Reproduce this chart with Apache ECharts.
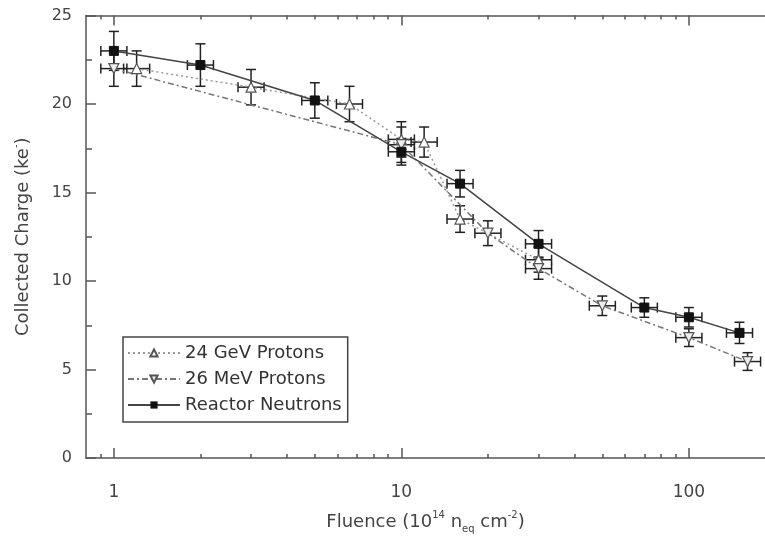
<!DOCTYPE html>
<html>
<head>
<meta charset="UTF-8">
<title>Collected Charge vs Fluence</title>
<script src="https://cdn.jsdelivr.net/npm/echarts@6/dist/echarts.min.js"></script>
</head>
<body style="margin:0">
<div id="main" style="width:765px;height:539px;"></div>
<script>
// data: fluence (1e14 neq/cm2), charge (ke-), y error
var gevX = [1.2, 3, 6.6, 10, 12, 16, 30];
var gevY = [22.0, 20.95, 20.0, 18.0, 17.85, 13.5, 11.2];
var gevErr = [1.0, 1.0, 1.0, 1.0, 0.85, 0.75, 0.7];

var mevX = [1, 10, 20, 30, 50, 100, 160];
var mevY = [22.0, 17.7, 12.7, 10.7, 8.6, 6.8, 5.45];
var mevErr = [1.0, 1.0, 0.7, 0.6, 0.55, 0.5, 0.5];

var reacX = [1, 2, 5, 10, 16, 30, 70, 100, 150];
var reacY = [23.0, 22.2, 20.2, 17.3, 15.5, 12.1, 8.5, 7.95, 7.07];
var reacErr = [1.1, 1.2, 1.0, 0.75, 0.75, 0.75, 0.55, 0.55, 0.6];

var xErrFactor = 1.11;   // horizontal error bars, about +-11%
var xMajor = [1, 10, 100];
var xMinor = [0.9, 2, 3, 4, 5, 6, 7, 8, 9, 20, 30, 40, 50, 60, 70, 80, 90];
// the original frame is cut off at the right edge of the picture
var xMin = 0.8, xMax = 184;

var FONT = 'DejaVu Sans';
var AXIS_COLOR = '#555';

function pairs(xs, ys) {
    return xs.map(function (x, i) { return [x, ys[i]]; });
}
function triples(xs, ys, es) {
    return xs.map(function (x, i) { return [x, ys[i], es[i]]; });
}

// error bar cross with caps
function renderErr(params, api) {
    var x = api.value(0), y = api.value(1), e = api.value(2);
    var top = api.coord([x, y + e]);
    var bot = api.coord([x, y - e]);
    var lft = api.coord([x / xErrFactor, y]);
    var rgt = api.coord([x * xErrFactor, y]);
    var c = 5;
    var st = { stroke: '#222', lineWidth: 1.5 };
    function seg(x1, y1, x2, y2) {
        return { type: 'line', shape: { x1: x1, y1: y1, x2: x2, y2: y2 }, style: st };
    }
    return {
        type: 'group',
        children: [
            seg(top[0], top[1], bot[0], bot[1]),
            seg(top[0] - c, top[1], top[0] + c, top[1]),
            seg(bot[0] - c, bot[1], bot[0] + c, bot[1]),
            seg(lft[0], lft[1], rgt[0], rgt[1]),
            seg(lft[0], lft[1] - c, lft[0], lft[1] + c),
            seg(rgt[0], rgt[1] - c, rgt[0], rgt[1] + c)
        ]
    };
}

function logAxis(pos, ticks, len, showLine, showLabel) {
    return {
        type: 'log', logBase: 10, min: xMin, max: xMax, position: pos,
        axisLine: { show: showLine, lineStyle: { color: AXIS_COLOR, width: 1.5 } },
        axisTick: { show: true, inside: true, length: len, customValues: ticks,
                    lineStyle: { color: AXIS_COLOR, width: 1.5 } },
        axisLabel: showLabel ? { show: true, customValues: xMajor, margin: 26,
                    fontFamily: FONT, fontSize: 17, color: '#444',
                    formatter: function (v) { return String(v); } } : { show: false },
        splitLine: { show: false },
        minorTick: { show: false }
    };
}

var chart = echarts.init(document.getElementById('main'));
var bottomAxis = logAxis('bottom', xMajor, 10, true, true);
bottomAxis.name = '{a|Fluence (10}{s|14}{a| n}{b|eq}{a| cm}{s|-2}{a|)}';
bottomAxis.nameLocation = 'middle';
bottomAxis.nameGap = 52;
bottomAxis.nameTextStyle = {
    rich: {
        a: { fontFamily: FONT, fontSize: 18, color: '#444', lineHeight: 24 },
        s: { fontFamily: FONT, fontSize: 10, color: '#444', verticalAlign: 'top', lineHeight: 24 },
        b: { fontFamily: FONT, fontSize: 10, color: '#444', verticalAlign: 'bottom', lineHeight: 24 }
    }
};

chart.setOption({
    animation: false,
    backgroundColor: '#fff',
    grid: { left: 86, top: 15.5, right: 0, bottom: 75.7 },
    legend: {
        data: ['24 GeV Protons', '26 MeV Protons', 'Reactor Neutrons'],
        orient: 'vertical', left: 123, top: 337,
        padding: [7, 6, 8, 4], itemGap: 8, itemWidth: 52, itemHeight: 9,
        borderColor: '#444', borderWidth: 1.5, borderRadius: 0,
        textStyle: { fontFamily: FONT, fontSize: 18, color: '#333' }
    },
    xAxis: [
        bottomAxis,
        logAxis('bottom', xMinor, 4, false, false),
        logAxis('top', xMajor, 10, true, false),
        logAxis('top', xMinor, 4, false, false)
    ],
    yAxis: [
        {
            type: 'value', min: 0, max: 25, interval: 5, position: 'left',
            name: '{a|Collected Charge (ke}{s|-}{a|)}',
            nameLocation: 'middle', nameGap: 51, nameRotate: 90,
            nameTextStyle: { rich: {
                a: { fontFamily: FONT, fontSize: 18, color: '#444', lineHeight: 24 },
                s: { fontFamily: FONT, fontSize: 10, color: '#444', verticalAlign: 'top', lineHeight: 24 }
            } },
            axisLine: { show: true, lineStyle: { color: AXIS_COLOR, width: 1.5 } },
            axisTick: { inside: true, length: 10, lineStyle: { color: AXIS_COLOR, width: 1.5 } },
            minorTick: { show: true, splitNumber: 2, length: 6, lineStyle: { color: AXIS_COLOR, width: 1.5 } },
            axisLabel: { margin: 14, fontFamily: FONT, fontSize: 16, color: '#444' },
            splitLine: { show: false }
        }
    ],
    series: [
        { type: 'custom', name: 'err1', renderItem: renderErr, data: triples(gevX, gevY, gevErr),
          encode: { x: 0, y: 1 }, z: 1 },
        { type: 'custom', name: 'err2', renderItem: renderErr, data: triples(mevX, mevY, mevErr),
          encode: { x: 0, y: 1 }, z: 1 },
        { type: 'custom', name: 'err3', renderItem: renderErr, data: triples(reacX, reacY, reacErr),
          encode: { x: 0, y: 1 }, z: 1 },
        {
            name: '24 GeV Protons', type: 'line', data: pairs(gevX, gevY), z: 3,
            symbol: 'triangle', symbolSize: 10,
            lineStyle: { color: '#999', width: 1.5, type: [2, 3] },
            itemStyle: { color: '#fff', borderColor: '#555', borderWidth: 1.2 }
        },
        {
            name: '26 MeV Protons', type: 'line', data: pairs(mevX, mevY), z: 3,
            symbol: 'triangle', symbolSize: 10, symbolRotate: 180,
            lineStyle: { color: '#777', width: 1.5, type: [6, 3, 2, 3] },
            itemStyle: { color: '#eee', borderColor: '#555', borderWidth: 1.2 }
        },
        {
            name: 'Reactor Neutrons', type: 'line', data: pairs(reacX, reacY), z: 3,
            symbol: 'rect', symbolSize: 9,
            lineStyle: { color: '#444', width: 1.5 },
            itemStyle: { color: '#111', borderColor: '#111' }
        }
    ]
});
</script>
</body>
</html>
